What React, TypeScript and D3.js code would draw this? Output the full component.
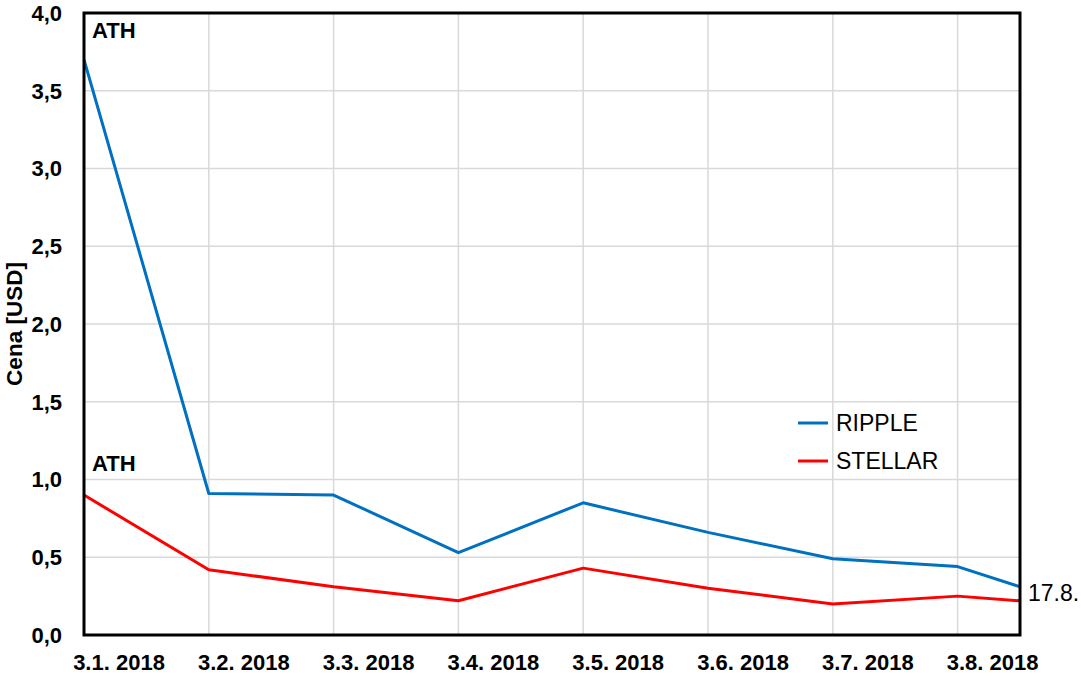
import React from 'react';
import * as d3 from 'd3';

// month labels on the x axis, last point is 17.8. (half month after 3.8.)
const dateLabels = ['3.1. 2018', '3.2. 2018', '3.3. 2018', '3.4. 2018', '3.5. 2018', '3.6. 2018', '3.7. 2018', '3.8. 2018'];
const pointPos = [0, 1, 2, 3, 4, 5, 6, 7, 7.5];
const lastLabel = '17.8.';

const ripple = [3.7, 0.91, 0.9, 0.53, 0.85, 0.66, 0.49, 0.44, 0.31];
const stellar = [0.9, 0.42, 0.31, 0.22, 0.43, 0.3, 0.2, 0.25, 0.22];

const yTicks = [0, 0.5, 1, 1.5, 2, 2.5, 3, 3.5, 4];

const series = [
  { name: 'RIPPLE', values: ripple, color: '#0070C0' },
  { name: 'STELLAR', values: stellar, color: '#FF0000' },
];

const fmt = (v: number) => v.toFixed(1).replace('.', ',');

function App() {
  const width = 1081;
  const height = 677;
  const margin = { top: 13, right: 61, bottom: 42, left: 84 };

  const xScale = d3.scaleLinear()
    .domain([0, 7.5])
    .range([margin.left, width - margin.right]);

  const yScale = d3.scaleLinear()
    .domain([0, 4])
    .range([height - margin.bottom, margin.top]);

  const makeLine = (vals: number[]) =>
    d3.line<number>()
      .x((_, i) => xScale(pointPos[i]))
      .y((d) => yScale(d))(vals) as string;

  const font = '"Liberation Sans", Arial, sans-serif';
  const x0 = xScale.range()[0], x1 = xScale.range()[1];
  const y0 = yScale.range()[0], y1 = yScale.range()[1];

  return (
    <svg width={width} height={height} style={{ position: 'absolute', left: 0, top: 0, background: '#fff' }} fontFamily={font}>
      {/* grid */}
      <g stroke="#d9d9d9" strokeWidth={1.5}>
        {yTicks.map((t) => (
          <line key={'gy' + t} x1={x0} x2={x1} y1={yScale(t)} y2={yScale(t)} />
        ))}
        {dateLabels.map((_, i) => (
          <line key={'gx' + i} x1={xScale(i)} x2={xScale(i)} y1={y0} y2={y1} />
        ))}
      </g>

      {/* series */}
      {series.map((s) => (
        <path key={s.name} d={makeLine(s.values)} fill="none" stroke={s.color} strokeWidth={3} strokeLinejoin="round" />
      ))}

      {/* frame */}
      <rect x={x0} y={y1} width={x1 - x0} height={y0 - y1} fill="none" stroke="#000" strokeWidth={3} />

      {/* y axis labels */}
      <g fontSize={22} fontWeight="bold" textAnchor="end">
        {yTicks.map((t) => (
          <text key={'yl' + t} x={x0 - 22} y={yScale(t)} dy="0.36em">{fmt(t)}</text>
        ))}
      </g>
      <text
        transform={`translate(22, ${(y0 + y1) / 2}) rotate(-90)`}
        textAnchor="middle"
        fontSize={22.5}
        fontWeight="bold"
      >Cena [USD]</text>

      {/* x axis labels, drawn a bit right of each month line */}
      <g fontSize={22} fontWeight="bold" textAnchor="middle">
        {dateLabels.map((d, i) => (
          <text key={'xl' + i} x={xScale(i) + 35} y={y0 + 35}>{d}</text>
        ))}
      </g>
      <text x={x1 + 8} y={yScale(ripple[8]) + 14} fontSize={23}>{lastLabel}</text>

      {/* ATH annotations */}
      <g fontSize={22} fontWeight="bold">
        <text x={xScale(0) + 8} y={yScale(ripple[0]) - 22}>ATH</text>
        <text x={xScale(0) + 8} y={yScale(stellar[0]) - 24}>ATH</text>
      </g>

      {/* legend */}
      <g fontSize={23}>
        {series.map((s, i) => (
          <g key={'lg' + s.name} transform={`translate(798, ${423 + i * 38})`}>
            <line x1={0} x2={30} y1={0} y2={0} stroke={s.color} strokeWidth={3} />
            <text x={38} y={0} dy="0.36em">{s.name}</text>
          </g>
        ))}
      </g>
    </svg>
  );
}

export default App;
